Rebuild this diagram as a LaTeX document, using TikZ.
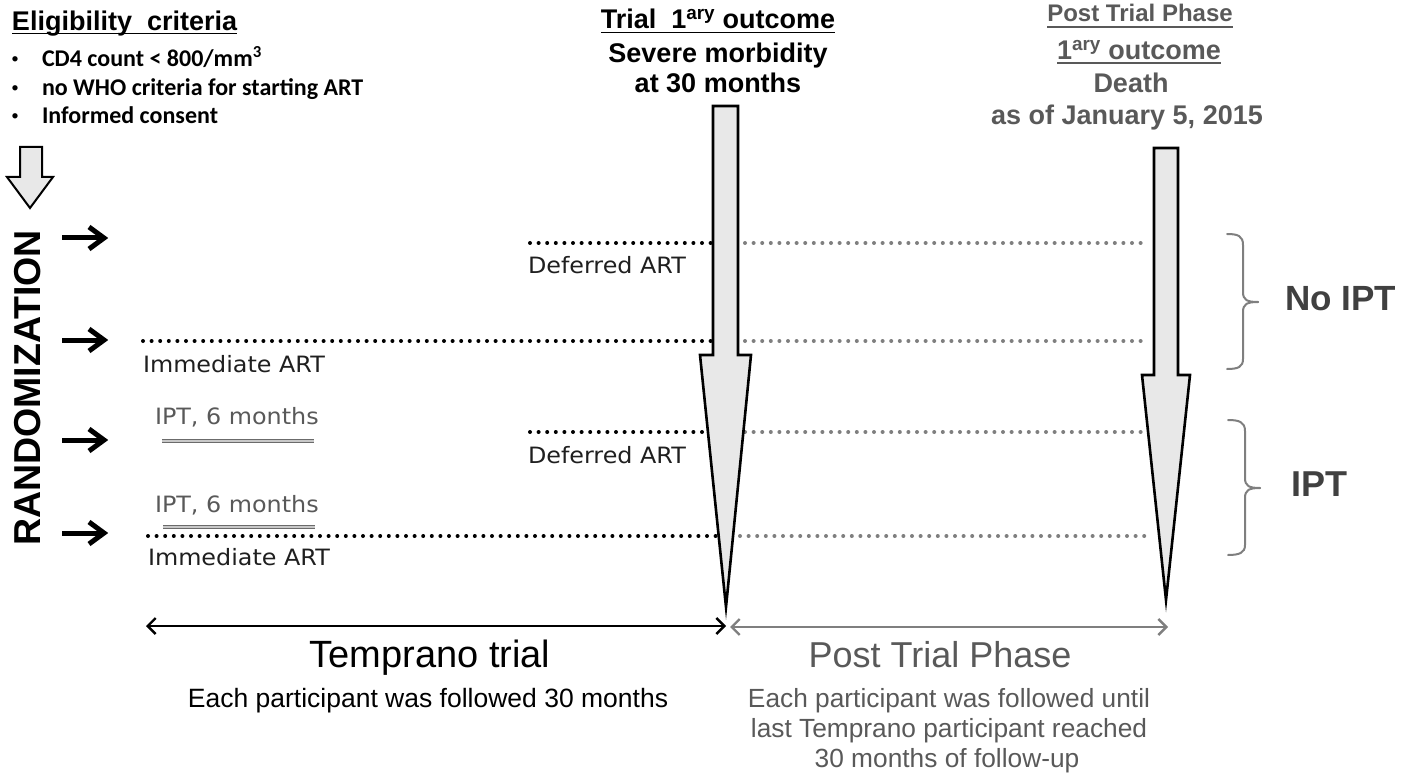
\documentclass[tikz,border=0pt]{standalone}
\usepackage{fontspec}
\setmainfont{Liberation Sans}
\newfontfamily\dvfont[FakeStretch=1.06]{DejaVu Sans}
\newfontfamily\carfont{Carlito}
\usetikzlibrary{arrows.meta}
\definecolor{txtgrey}{HTML}{595959}
\definecolor{dkgrey}{HTML}{404040}
\definecolor{dotgrey}{HTML}{7F7F7F}
\definecolor{arrfill}{HTML}{E8E8E8}
\definecolor{iptout}{HTML}{6B6B6B}
\definecolor{iptin}{HTML}{C8C8C8}
\newcommand{\setfs}[1]{\fontsize{#1}{#1}\selectfont}
\tikzset{
  txt/.style={inner sep=0pt, outer sep=0pt},
  lbl/.style={txt, font=\dvfont\setfs{22.5}, text=black!88},
  iptlbl/.style={txt, font=\dvfont\setfs{22.5}, text=txtgrey},
  bullettxt/.style={txt, font=\carfont\bfseries\setfs{24}},
  bulletdot/.style={txt, font=\carfont\setfs{15}},
  bigarrow/.style={fill=arrfill, draw=black, line width=2.6pt, line join=miter, miter limit=60},
  smallarrow/.style={fill=arrfill, draw=black, line width=2pt, line join=miter, miter limit=10},
  blackdots/.style={draw=black, line width=4pt, line cap=round, dash pattern=on 0pt off 8.6pt},
  greydots/.style={draw=dotgrey, line width=4pt, line cap=round, dash pattern=on 0pt off 8.6pt},
  randline/.style={draw=black, line width=5pt},
  randhead/.style={draw=black, line width=5pt, line join=miter, miter limit=10},
  iptline/.style={draw=iptout, line width=1.5pt, double=iptin, double distance=1.8pt},
  brace/.style={draw=dotgrey, line width=2pt, line cap=round},
  spanblack/.style={draw=black, line width=2.4pt, {Straight Barb[length=8pt,width=16pt]}-{Straight Barb[length=8pt,width=16pt]}},
  spangrey/.style={draw=dotgrey, line width=2.4pt, {Straight Barb[length=8pt,width=16pt]}-{Straight Barb[length=8pt,width=16pt]}},
  uline/.style={line width=1.8pt}
}
\begin{document}
\begin{tikzpicture}[x=1pt,y=-1pt]
\useasboundingbox (0,0) rectangle (1419,778);

% ---------- Eligibility criteria ----------
\node[txt, anchor=base west, font=\bfseries\setfs{27}] (elig) at (12,31) {Eligibility\ \ criteria};
\draw[uline] ([yshift=-2.5pt]elig.base west) -- ([yshift=-2.5pt]elig.base east);
\node[bulletdot, anchor=center] (b1) at (15,60) {\textbullet};
\node[bullettxt, anchor=base west] (c1) at (42,67) {CD4 count < 800/mm\textsuperscript{3}};
\node[bulletdot, anchor=center] (b2) at (15,89) {\textbullet};
\node[bullettxt, anchor=base west] (c2) at (42,96) {no WHO criteria for starting ART};
\node[bulletdot, anchor=center] (b3) at (15,117) {\textbullet};
\node[bullettxt, anchor=base west] (c3) at (42,124) {Informed consent};

% small down arrow
\draw[smallarrow] (20,147) -- (42,147) -- (42,177) -- (53,177) -- (30,208) -- (7,177) -- (20,177) -- cycle;

% RANDOMIZATION
\node[txt, rotate=90, font=\bfseries\setfs{37.5}] (rand) at (28,388) {RANDOMIZATION};

% randomization arrows
\coordinate (r1s) at (62,238); \coordinate (r1e) at (104,238);
\coordinate (r2s) at (62,340); \coordinate (r2e) at (104,340);
\coordinate (r3s) at (62,440); \coordinate (r3e) at (104,440);
\coordinate (r4s) at (62,533); \coordinate (r4e) at (104,533);
\foreach \a/\b in {r1s/r1e, r2s/r2e, r3s/r3e, r4s/r4e}{
  \draw[randline] (\a) -- (\b);
  \draw[randhead] (\b) ++(-15,-11) -- (\b) -- ++(-15,11);
}

% ---------- dotted lines ----------
\coordinate (d1a) at (530,243); \coordinate (d1b) at (713,243);
\coordinate (d1c) at (745,243); \coordinate (d1d) at (1145,243);
\coordinate (i1a) at (143,341); \coordinate (i1b) at (713,341);
\coordinate (i1c) at (745,341); \coordinate (i1d) at (1145,341);
\coordinate (d2a) at (530,432); \coordinate (d2b) at (710,432);
\coordinate (d2c) at (745,432); \coordinate (d2d) at (1145,432);
\coordinate (i2a) at (148,536); \coordinate (i2b) at (718,536);
\coordinate (i2c) at (740,536); \coordinate (i2d) at (1150,536);
\draw[blackdots] (d1a) -- (d1b);
\draw[greydots] (d1c) -- (d1d);
\draw[blackdots] (i1a) -- (i1b);
\draw[greydots] (i1c) -- (i1d);
\draw[blackdots] (d2a) -- (d2b);
\draw[greydots] (d2c) -- (d2d);
\draw[blackdots] (i2a) -- (i2b);
\draw[greydots] (i2c) -- (i2d);

% labels
\node[lbl, anchor=base west] (def1) at (528,273) {Deferred ART};
\node[lbl, anchor=base west] (imm1) at (143,372) {Immediate ART};
\node[iptlbl, anchor=base west] (ipt1) at (155,424) {IPT, 6 months};
\node[lbl, anchor=base west] (def2) at (528,463) {Deferred ART};
\node[iptlbl, anchor=base west] (ipt2) at (155,512) {IPT, 6 months};
\node[lbl, anchor=base west] (imm2) at (148,565) {Immediate ART};

% IPT double lines
\coordinate (p1a) at (162,441); \coordinate (p1b) at (314,441);
\coordinate (p2a) at (163,527); \coordinate (p2b) at (315,527);
\draw[iptline] (p1a) -- (p1b);
\draw[iptline] (p2a) -- (p2b);

% ---------- big arrows ----------
\draw[bigarrow] (713,106) -- (738,106) -- (738,355) -- (751,355) -- (726,607) -- (700,355) -- (713,355) -- cycle;
\draw[bigarrow] (1154,148) -- (1178,148) -- (1178,375) -- (1190,375) -- (1166,600) -- (1142,375) -- (1154,375) -- cycle;

% ---------- top headings ----------
\node[txt, anchor=base, font=\bfseries\setfs{27}] (tr1) at (718,29) {Trial\ \ 1\textsuperscript{ary} outcome};
\draw[uline] ([yshift=-3.5pt]tr1.base west) -- ([yshift=-3.5pt]tr1.base east);
\node[txt, anchor=base, font=\bfseries\setfs{27}] (tr2) at (718,63) {Severe morbidity};
\node[txt, anchor=base, font=\bfseries\setfs{27}] (tr3) at (718,93) {at 30 months};

\node[txt, anchor=base, font=\bfseries\setfs{24}, text=txtgrey] (pt1) at (1140,22) {Post Trial Phase};
\draw[uline, draw=txtgrey, line width=1.5pt] ([yshift=-5pt]pt1.base west) -- ([yshift=-5pt]pt1.base east);
\node[txt, anchor=base, font=\bfseries\setfs{27}, text=txtgrey] (pt2) at (1139,60) {1\textsuperscript{ary} outcome};
\draw[uline, draw=txtgrey, line width=1.5pt] ([yshift=-3pt]pt2.base west) -- ([yshift=-3pt]pt2.base east);
\node[txt, anchor=base, font=\bfseries\setfs{27}, text=txtgrey] (pt3) at (1131,93) {Death};
\node[txt, anchor=base, font=\bfseries\setfs{27}, text=txtgrey] (pt4) at (1127,125) {as of January 5, 2015};

% ---------- braces ----------
\draw[brace] (1227,234) .. controls (1238,234) and (1243,236) .. (1243,245) -- (1243,292)
  .. controls (1243,300) and (1247,302) .. (1258,302);
\draw[brace] (1258,302) .. controls (1247,302) and (1243,304) .. (1243,312) -- (1243,359)
  .. controls (1243,367) and (1238,369) .. (1227,369);
\draw[brace] (1228,420) .. controls (1239,420) and (1245,422) .. (1245,431) -- (1245,478)
  .. controls (1245,486) and (1249,488) .. (1260,488);
\draw[brace] (1260,488) .. controls (1249,488) and (1245,490) .. (1245,498) -- (1245,545)
  .. controls (1245,553) and (1239,555) .. (1228,555);
\node[txt, anchor=base west, font=\bfseries\setfs{35}, text=dkgrey] (noipt) at (1285,310) {No IPT};
\node[txt, anchor=base west, font=\bfseries\setfs{36}, text=dkgrey] (iptg) at (1291,496) {IPT};

% ---------- bottom span arrows ----------
\coordinate (sa) at (146,626); \coordinate (sb) at (726,626);
\coordinate (sc) at (730,627); \coordinate (sd) at (1168,627);
\draw[spanblack] (sa) -- (sb);
\draw[spangrey] (sc) -- (sd);

\node[txt, anchor=base, font=\setfs{38}] (temp) at (430,667) {Temprano trial};
\node[txt, anchor=base, font=\setfs{26.5}] (temp2) at (428,707) {Each participant was followed 30 months};

\node[txt, anchor=base, font=\setfs{36}, text=txtgrey] (ptp) at (940,667) {Post Trial Phase};
\node[txt, anchor=base, font=\setfs{26.3}, text=txtgrey] (ptp1) at (949,707) {Each participant was followed until};
\node[txt, anchor=base, font=\setfs{26.3}, text=txtgrey] (ptp2) at (949,737) {last Temprano participant reached};
\node[txt, anchor=base, font=\setfs{26.3}, text=txtgrey] (ptp3) at (947,767) {30 months of follow-up};
\end{tikzpicture}
\end{document}
